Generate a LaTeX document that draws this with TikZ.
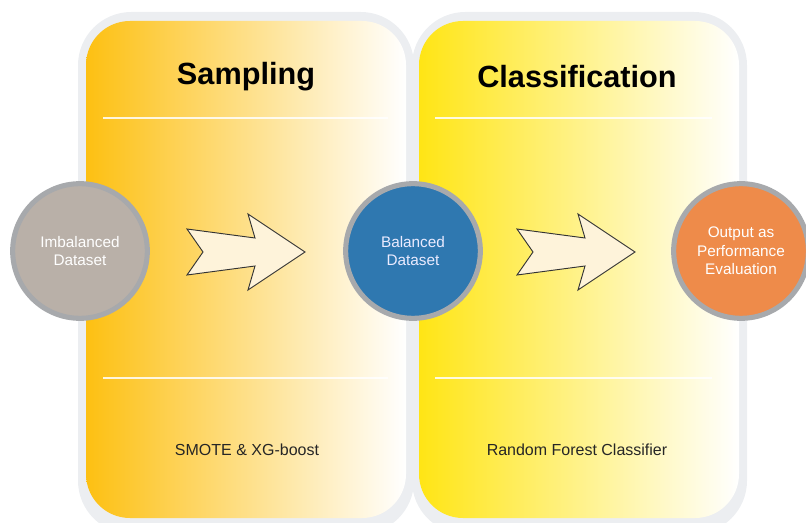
\documentclass[tikz,border=0pt]{standalone}
\usepackage{fontspec}
\setmainfont{Liberation Sans}
\definecolor{panelgray}{HTML}{ECEEF1}
\definecolor{sampY}{HTML}{FDC012}
\definecolor{classY}{HTML}{FFE515}
\definecolor{ringgray}{HTML}{A7A9AC}
\definecolor{imbfill}{HTML}{B9B0A8}
\definecolor{balfill}{HTML}{2F78B0}
\definecolor{outfill}{HTML}{EE8B4A}
\definecolor{arrowfill}{HTML}{FEF3DA}
\tikzset{
  outerpanel/.style={fill=panelgray, rounded corners=40pt},
  innerpanel/.style={right color=white, rounded corners=33pt},
  sepline/.style={draw=white, line width=2pt, opacity=0.85},
  title/.style={font=\bfseries\fontsize{23}{27}\selectfont, text=black},
  subtext/.style={font=\fontsize{12}{14}\selectfont, text=black!85},
  circnode/.style={circle, draw=ringgray, line width=3.8pt, minimum size=101pt,
    align=center, font=\fontsize{11.5}{14}\selectfont, inner sep=0pt},
  blockarrow/.style={draw=black!80, fill=arrowfill, line width=0.7pt, line join=miter}
}
\begin{document}
\begin{tikzpicture}[x=0.75pt,y=-0.75pt]
\useasboundingbox (0,0) rectangle (806,523);
% panels
\fill[outerpanel] (78,12) rectangle (414,534);
\fill[outerpanel] (412,12) rectangle (747,534);
\shade[innerpanel, left color=sampY] (86,21) rectangle (406,518);
\shade[innerpanel, left color=classY] (419,21) rectangle (739,518);
% separator lines
\draw[sepline] (103,118) -- (388,118);
\draw[sepline] (435,118) -- (712,118);
\draw[sepline] (103,378) -- (388,378);
\draw[sepline] (435,378) -- (712,378);
% titles and captions
\node[title] (tsamp) at (246,77) {Sampling};
\node[title] (tclass) at (577,77) {Classification};
\node[subtext] (csamp) at (247,450) {SMOTE \& XG-boost};
\node[subtext] (cclass) at (577,450) {Random Forest Classifier};
% block arrows
\foreach \dx/\nm in {0/a1, 330/a2}{
  \begin{scope}[shift={(\dx,0)}]
    \draw[blockarrow] (187,229) -- (255,238) -- (248,214) -- (305,252) -- (248,290)
      -- (255,266) -- (187,275) -- (203,252) -- cycle;
    \coordinate (\nm) at (246,252);
  \end{scope}
}
% circles
\node[circnode, fill=imbfill, text=white] (imb) at (80,251) {Imbalanced\\Dataset};
\node[circnode, fill=balfill, text=blue!8] (bal) at (413,251) {Balanced\\Dataset};
\node[circnode, fill=outfill, text=white] (out) at (741,251) {Output as\\Performance\\Evaluation};
\end{tikzpicture}
\end{document}
